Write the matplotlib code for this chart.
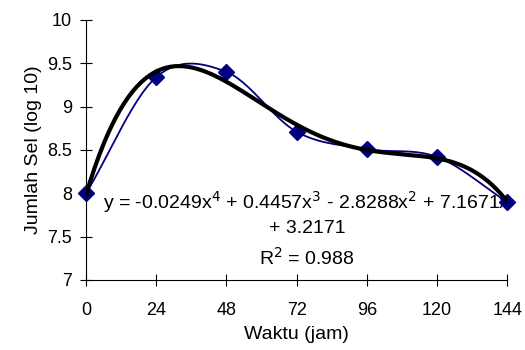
import matplotlib
matplotlib.use("Agg")
import matplotlib.pyplot as plt
import numpy as np

plt.rcParams['font.family'] = ['Liberation Sans', 'DejaVu Sans']

# data
waktu = [0, 24, 48, 72, 96, 120, 144]
jumlah_sel = [8.0, 9.34, 9.40, 8.71, 8.51, 8.42, 7.90]

x = np.arange(1, len(waktu) + 1)
y = np.array(jumlah_sel)


def smooth(xs, ys, n=30):
    # catmull-rom style smoothing like the spreadsheet "smoothed line"
    px = np.concatenate([[2 * xs[0] - xs[1]], xs, [2 * xs[-1] - xs[-2]]])
    py = np.concatenate([[2 * ys[0] - ys[1]], ys, [2 * ys[-1] - ys[-2]]])
    out_x, out_y = [], []
    t = np.linspace(0, 1, n)
    for i in range(1, len(px) - 2):
        for p, o in ((px, out_x), (py, out_y)):
            p0, p1, p2, p3 = p[i - 1], p[i], p[i + 1], p[i + 2]
            o.extend(0.5 * ((2 * p1) + (-p0 + p2) * t
                            + (2 * p0 - 5 * p1 + 4 * p2 - p3) * t ** 2
                            + (-p0 + 3 * p1 - 3 * p2 + p3) * t ** 3))
    return np.array(out_x), np.array(out_y)


fig, ax = plt.subplots(figsize=(5.25, 3.5), dpi=100)
fig.subplots_adjust(left=0.164, right=0.966, top=0.943, bottom=0.2)

sx, sy = smooth(x.astype(float), y)
ax.plot(sx, sy, color='#000080', lw=1.3, zorder=2)
ax.plot(x, y, 'D', color='#000080', ms=8, zorder=3, clip_on=False)

# 4th order polynomial trendline
coef = np.polyfit(x, y, 4)
tx = np.linspace(1, 7, 200)
ax.plot(tx, np.polyval(coef, tx), color='black', lw=3, zorder=4)

ax.set_xlim(1, 7)
ax.set_ylim(7, 10)
ax.set_xticks(x)
ax.set_xticklabels([str(w) for w in waktu])
ax.set_yticks([7, 7.5, 8, 8.5, 9, 9.5, 10])
ax.set_yticklabels(['7', '7.5', '8', '8.5', '9', '9.5', '10'])
ax.tick_params(direction='inout', length=8, width=0.8, labelsize=13)
ax.tick_params(axis='x', pad=12)
ax.tick_params(axis='y', pad=6)
ax.spines['top'].set_visible(False)
ax.spines['right'].set_visible(False)
for s in ('left', 'bottom'):
    ax.spines[s].set_linewidth(0.8)
ax.set_xlabel('Waktu (jam)', fontsize=14, labelpad=5)
ax.set_ylabel('Jumlah Sel (log 10)', fontsize=14, labelpad=4)

ax.text(4.15, 7.77, 'y = -0.0249x$^4$ + 0.4457x$^3$ - 2.8288x$^2$ + 7.1671x\n+ 3.2171',
        ha='center', va='center', fontsize=14, linespacing=1.35, zorder=1)
ax.text(4.15, 7.25, 'R$^2$ = 0.988', ha='center', va='center', fontsize=14)

fig.savefig('out.png', dpi=100)
